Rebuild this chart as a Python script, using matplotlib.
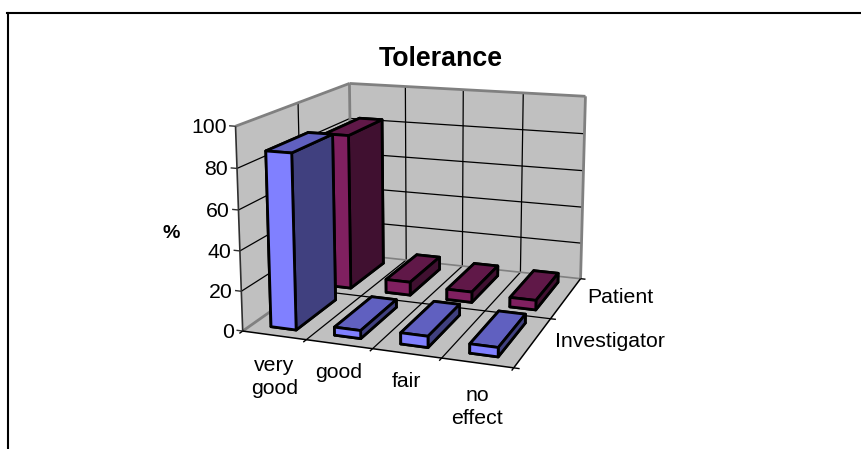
import numpy as np
import matplotlib
matplotlib.use("Agg")
import matplotlib.pyplot as plt
from matplotlib.lines import Line2D
from mpl_toolkits.mplot3d.art3d import Poly3DCollection

plt.rcParams['font.family'] = ['Liberation Sans', 'DejaVu Sans']

categories = ['very\ngood', 'good', 'fair', 'no\neffect']
series_names = ['Investigator', 'Patient']
investigator = [87, 4, 5.5, 4.5]
patient = [82.5, 7, 5.5, 5]
z_ticks = [0, 20, 40, 60, 80, 100]

W, H = 861, 449

# box positions (category, series, percent) and where they sit in the picture
box_corners = [(0, 0, 0), (0, 0, 100), (0, 2, 100), (0, 2, 0),
               (4, 2, 100), (4, 2, 0), (4, 0, 0),
               (1, 0, 0), (2, 0, 0), (3, 0, 0), (4, 1, 0),
               (1, 2, 100), (2, 2, 100), (3, 2, 100)]
box_pixels = [(243, 331), (235, 126), (350, 83), (351, 254),
              (585.5, 96), (580, 279), (512, 368),
              (307, 340), (373, 349), (441, 358), (553, 318),
              (405.7, 87), (463, 90), (523, 93)]


def fit_camera(world, pix):
    rows = []
    for (X, Y, Z), (u, v) in zip(world, pix):
        v = H - v
        rows.append([X, Y, Z, 1, 0, 0, 0, 0, -u*X, -u*Y, -u*Z, -u])
        rows.append([0, 0, 0, 0, X, Y, Z, 1, -v*X, -v*Y, -v*Z, -v])
    P = np.linalg.svd(np.array(rows))[2][-1].reshape(3, 4)
    # w has to be positive inside the box
    if P[2] @ np.array([2, 1, 50, 1]) < 0:
        P = -P
    return P


camera = fit_camera(box_corners, box_pixels)

fig = plt.figure(figsize=(W / 100, H / 100), dpi=100)
ax = fig.add_axes([0, 0, 1, 1], projection='3d', computed_zorder=False)
ax.apply_aspect = lambda position=None: None
ax.set_axis_off()


def get_proj():
    to_view = ax.transData.inverted().get_matrix()
    M = np.array([camera[0], camera[1], [0, 0, 0, -1], camera[2]])
    T = np.array([[to_view[0, 0], 0, 0, to_view[0, 2]],
                  [0, to_view[1, 1], 0, to_view[1, 2]],
                  [0, 0, 1, 0],
                  [0, 0, 0, 1]])
    return T @ M


ax.get_proj = get_proj

wall = '#c0c0c0'
edge = '#808080'
walls = [[(0, 0, 0), (4, 0, 0), (4, 2, 0), (0, 2, 0)],
         [(0, 0, 0), (0, 2, 0), (0, 2, 100), (0, 0, 100)],
         [(0, 2, 0), (4, 2, 0), (4, 2, 100), (0, 2, 100)]]
ax.add_collection3d(Poly3DCollection(walls, facecolors=wall, edgecolors='none', zorder=1))


def seg(a, b, c='k', lw=0.9, z=2):
    ax.plot([a[0], b[0]], [a[1], b[1]], [a[2], b[2]], color=c, lw=lw, zorder=z,
            solid_capstyle='butt')


def label(X, Y, Z, text, dx=0, dy=0, **kw):
    # text goes at a box position plus an offset in pixels
    u, v, w = camera @ np.array([X, Y, Z, 1])
    fig.text((u / w + dx) / W, (v / w - dy) / H, text, va='center', **kw)


# gridlines on walls and floor
for t in z_ticks[1:-1]:
    seg((0, 0, t), (0, 2, t))
    seg((0, 2, t), (4, 2, t))
seg((0, 1, 0), (0, 1, 100))
for i in [1, 2, 3]:
    seg((i, 2, 0), (i, 2, 100))
    seg((i, 0, 0), (i, 2, 0))
seg((0, 1, 0), (4, 1, 0))

# wall edges
seg((0, 0, 100), (0, 2, 100), edge, 2)
seg((0, 2, 100), (4, 2, 100), edge, 2)
seg((0, 2, 0), (0, 2, 100), edge, 2)
seg((4, 2, 0), (4, 2, 100), edge, 2)
seg((0, 0, 0), (0, 2, 0), edge, 2)
seg((0, 2, 0), (4, 2, 0), edge, 1.2)
seg((0, 0, 0), (0, 0, 100), '#303030', 1.2)
seg((0, 0, 0), (4, 0, 0), 'k', 1.1)
seg((4, 0, 0), (4, 2, 0), 'k', 1.1)

# ticks
for t in z_ticks:
    seg((0, 0, t), (-0.1, 0, t), '#303030', 1)
    label(0, 0, t, str(t), dx=-9, dy=1.5, ha='right', fontsize=15.3)
for i in range(5):
    seg((i, 0, 0), (i, -0.05, 0), 'k', 1)
for j in range(3):
    seg((4, j, 0), (4.08, j, 0), 'k', 1)

cat_offset = [42, 28, 28, 44]
for i, name in enumerate(categories):
    label(i + 0.5, 0, 0, name, dy=cat_offset[i], ha='center', fontsize=15.3, linespacing=1.28)
label(4, 1.5, 0, series_names[1], dx=54, ha='center', fontsize=15.3)
label(4, 0.5, 0, series_names[0], dx=77, ha='center', fontsize=15.3)

# faces: bottom, top, front, back, left, right
blue = ['#40407f', '#6060c0', '#8080ff', '#40407f', '#40407f', '#40407f']
maroon = ['#401030', '#601848', '#802060', '#401030', '#401030', '#401030']

order = 10
for j, values, colors in [(1, patient, maroon), (0, investigator, blue)]:
    for i, v in enumerate(values):
        ax.bar3d(i + 0.3, j + 0.15, 0, 0.4, 0.7, v, color=colors, shade=False,
                 edgecolor='k', linewidth=2, zsort='average', zorder=order)
        order += 1

fig.text(441 / W, 1 - 59 / H, 'Tolerance', ha='center', va='center', fontsize=19.3, fontweight='bold')
fig.text(171 / W, 1 - 233 / H, '%', ha='center', va='center', fontsize=14, fontweight='bold')

# chart frame, cropped on the right and bottom
fig.add_artist(Line2D([8 / W, 8 / W], [0, 1 - 13 / H], color='k', lw=1.5))
fig.add_artist(Line2D([7 / W, 1], [1 - 13 / H, 1 - 13 / H], color='k', lw=1.5))

fig.savefig('out.png', dpi=100)
